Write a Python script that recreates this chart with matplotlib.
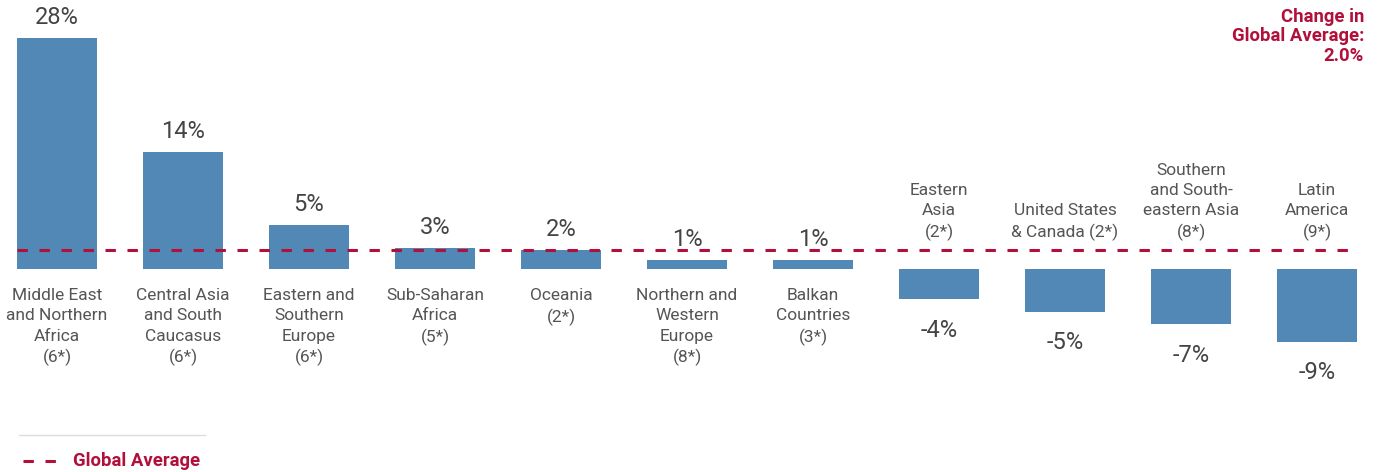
import numpy as np
import matplotlib
matplotlib.use("Agg")
from matplotlib import pyplot as plt
from matplotlib.lines import Line2D

# regions, change values and printed labels
regions = ["Middle East\nand Northern\nAfrica\n(6*)",
           "Central Asia\nand South\nCaucasus\n(6*)",
           "Eastern and\nSouthern\nEurope\n(6*)",
           "Sub-Saharan\nAfrica\n(5*)",
           "Oceania\n(2*)",
           "Northern and\nWestern\nEurope\n(8*)",
           "Balkan\nCountries\n(3*)",
           "Eastern\nAsia\n(2*)",
           "United States\n& Canada (2*)",
           "Southern\nand South-\neastern Asia\n(8*)",
           "Latin\nAmerica\n(9*)"]
changes = [28.0, 14.2, 5.3, 2.55, 2.3, 1.05, 1.05, -3.65, -5.2, -6.7, -8.8]
value_labels = ["28%", "14%", "5%", "3%", "2%", "1%", "1%", "-4%", "-5%", "-7%", "-9%"]
global_avg = 2.25
header = "Change in\nGlobal Average:\n2.0%"

BLUE = "#5288b5"
RED = "#b0103a"
GREY = "#444444"
W, H = 1381, 472

plt.rcParams['font.family'] = ['Roboto', 'DejaVu Sans']

fig = plt.figure(figsize=(W / 100, H / 100), dpi=100)
ax = fig.add_axes([0, 0, 1, 1])

x = np.arange(len(regions))
ax.bar(x, changes, width=0.635, color=BLUE, zorder=2)

# pixel layout: bar centres at 57 + 126*i, zero at y=269, 8.25 px per %
ax.set_xlim(-57 / 126, (W - 57) / 126)
ax.set_ylim(-(H - 269) / 8.25, 269 / 8.25)
ax.axis('off')

# global average dashed line
ax.plot([-0.318, len(regions) - 1 + 0.318], [global_avg, global_avg], color=RED,
        lw=2.2, dashes=(3.4, 3.8), zorder=3)

for i, (v, lab, reg) in enumerate(zip(changes, value_labels, regions)):
    if v >= 0:
        ax.annotate(lab, (i, v), xytext=(0, 10), textcoords='offset points',
                    ha='center', va='baseline', fontsize=17, color=GREY)
        ax.annotate(reg, (i, 0), xytext=(0, -14), textcoords='offset points',
                    ha='center', va='top', fontsize=12.5, color='#555555',
                    linespacing=1.42)
    else:
        ax.annotate(lab, (i, v), xytext=(0, -27), textcoords='offset points',
                    ha='center', va='baseline', fontsize=17, color=GREY)
        ax.annotate(reg, (i, 0), xytext=(0, 20), textcoords='offset points',
                    ha='center', va='bottom', fontsize=12.5, color='#555555',
                    linespacing=1.42)

# header top right
fig.text(1364 / W, 1 - 8 / H, header, ha='right', va='top', fontsize=13.3,
         fontweight='bold', color=RED, linespacing=1.1)

# legend at bottom left
fig.add_artist(Line2D([19 / W, 205 / W], [1 - 435 / H, 1 - 435 / H],
                      color='#dddddd', lw=1))
fig.add_artist(Line2D([23 / W, 56 / W], [1 - 461 / H, 1 - 461 / H],
                      color=RED, lw=2.2, dashes=(3.4, 3.8)))
fig.text(73 / W, 1 - 461 / H, "Global Average", ha='left', va='center',
         fontsize=13.3, fontweight='bold', color=RED)

fig.savefig("out.png", dpi=100)
